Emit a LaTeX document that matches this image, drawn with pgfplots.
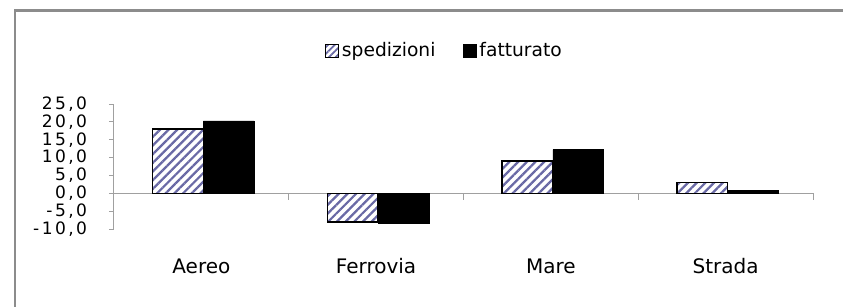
\documentclass[border=0pt]{standalone}
\usepackage{fontspec}
\setmainfont{DejaVu Sans}
\newfontfamily\tickfont[LetterSpace=14]{DejaVu Sans}
\usepackage{pgfplots}
\pgfplotsset{compat=1.18}
\usetikzlibrary{patterns.meta}
\definecolor{hatch}{RGB}{105,105,165}
\definecolor{framegray}{RGB}{140,140,140}
\definecolor{axgray}{RGB}{160,160,160}
\begin{document}
\begin{tikzpicture}[x=0.75pt,y=0.75pt]
\useasboundingbox (-114,-78) rectangle (729,229);
\draw[framegray, line width=2.2] (-99,-78) -- (-99,218.5) -- (729,218.5);
\begin{axis}[
  at={(0,0)}, anchor=south west, scale only axis,
  width=524.25pt, height=93.75pt,
  xmin=-0.5, xmax=3.5, ymin=-10, ymax=25,
  ytick={-10,-5,0,5,10,15,20,25},
  axis y line*=left, axis x line*=bottom,
  x axis line style={draw=none},
  y axis line style={draw=axgray, line width=0.75pt},
  ytick style={draw=axgray, line width=0.75pt},
  xtick style={draw=none},
  tick align=outside, major tick length=3.75pt,
  xtick={0,1,2,3},
  xticklabels={Aereo,Ferrovia,Mare,Strada},
  xticklabel style={anchor=base, yshift=-29.5pt, font=\fontsize{15}{18}\selectfont},
  yticklabel style={anchor=east, xshift=-13pt, font=\tickfont\fontsize{12.8}{14}\selectfont},
  /pgf/number format/.cd, fixed, fixed zerofill, precision=1, use comma, assume math mode=true,
  /pgfplots/.cd,
  ybar=0pt, bar width=38pt,
  every axis plot/.append style={xshift=1.5pt},
  legend columns=2,
  legend style={at={(0.473,1.426)}, anchor=center, draw=none, fill=none,
    font=\fontsize{14}{16}\selectfont,
    /tikz/every even column/.append style={column sep=19pt}},
  clip=false,
]
\draw[axgray, line width=0.75pt] (axis cs:-0.5,0) -- (axis cs:3.5,0);
\pgfplotsinvokeforeach{0.5,1.5,2.5,3.5}{\draw[axgray, line width=0.75pt] (axis cs:#1,0) -- ++(0pt,-5.25pt);}
\addplot[draw=black, line width=1.1pt, pattern={Lines[angle=45,distance=4.6pt,line width=1.7pt]}, pattern color=hatch,
  legend image code/.code={\draw[draw=black, line width=0.8pt, pattern={Lines[angle=45,distance=3.5pt,line width=1.3pt]}, pattern color=hatch] (0pt,-4.8pt) rectangle (9.6pt,4.8pt);}]
  coordinates {(0,18.0) (1,-8.0) (2,9.0) (3,3.0)};
\addplot[draw=black, fill=black,
  legend image code/.code={\fill[black] (0pt,-4.8pt) rectangle (9.6pt,4.8pt);}]
  coordinates {(0,20.3) (1,-8.3) (2,12.2) (3,0.9)};
\legend{spedizioni,fatturato}
\end{axis}
\end{tikzpicture}
\end{document}
